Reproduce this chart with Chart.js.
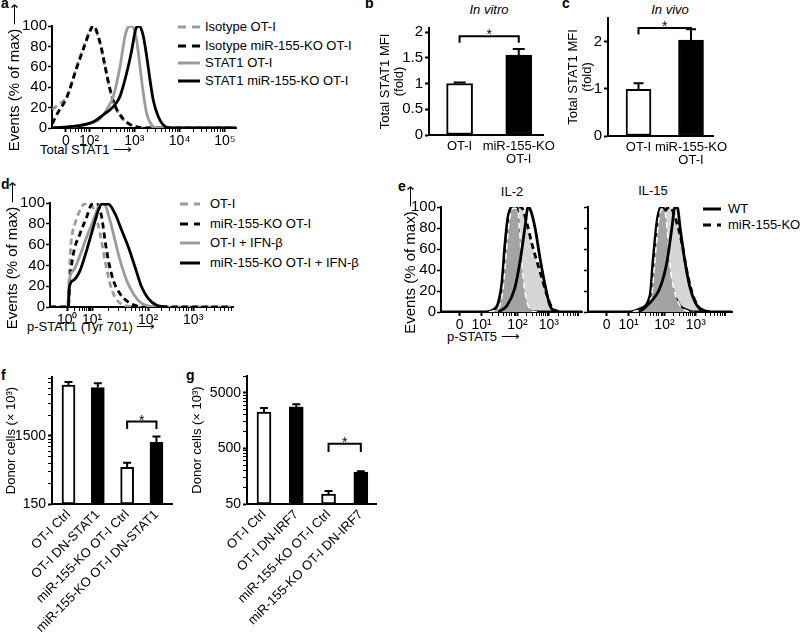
<!DOCTYPE html>
<html>
<head>
<meta charset="utf-8">
<script src="https://cdn.jsdelivr.net/npm/chart.js@4.4.1/dist/chart.umd.min.js"></script>
<style>
html,body{margin:0;padding:0;background:#fff;}
body{width:800px;height:638px;position:relative;overflow:hidden;font-family:"Liberation Sans",Arial,sans-serif;color:#000;}
canvas{position:absolute;}
.tx{position:absolute;font-size:13px;line-height:16px;white-space:nowrap;}
.pl{position:absolute;font-size:14px;font-weight:bold;line-height:14px;}
.ctr{transform:translateX(-50%);}
svg{position:absolute;left:0;top:0;}
</style>
</head>
<body>
<div class="pl" style="left:1px;top:-4px">a</div>
<div class="pl" style="left:365px;top:-4px">b</div>
<div class="pl" style="left:562px;top:-4px">c</div>
<div class="pl" style="left:1px;top:177px">d</div>
<div class="pl" style="left:398px;top:179px">e</div>
<div class="pl" style="left:1px;top:368px">f</div>
<div class="pl" style="left:186px;top:368px">g</div>

<div class="tx ctr" style="left:489px;top:2px;font-style:italic">In vitro</div>
<div class="tx ctr" style="left:670px;top:2px;font-style:italic">In vivo</div>
<div class="tx ctr" style="left:512px;top:184px">IL-2</div>
<div class="tx ctr" style="left:653px;top:183px">IL-15</div>

<div class="tx" style="left:40px;top:142px">Total STAT1 ⟶</div>
<div class="tx" style="left:27px;top:319px">p-STAT1 (Tyr 701) ⟶</div>
<div class="tx" style="left:447px;top:329px">p-STAT5 ⟶</div>

<svg width="800" height="638" id="lg"></svg>
<div id="legends"></div>

<script>
// ================= DATA =================
// Panel a: Total STAT1 (x in display decades of the logicle axis, y in % of max)
const aTickPos = [1.49, 2, 3, 4, 5];
const aTickLabels = ['0', '10²', '10³', '10⁴', '10⁵'];
const aSeriesNames = ['Isotype OT-I', 'Isotype miR-155-KO OT-I', 'STAT1 OT-I', 'STAT1 miR-155-KO OT-I'];
const aIsoOT_x = [1.19, 1.3, 1.51, 1.728, 1.912, 2.022, 2.08, 2.243, 2.353, 2.464, 2.574, 2.757, 2.978, 3.347, 5.24];
const aIsoOT_y = [18, 22, 31, 60, 83, 96, 100, 83, 60, 37, 21, 8, 2, 0, 0];
const aIsoKO_x = [1.19, 1.3, 1.51, 1.728, 1.912, 2.022, 2.095, 2.243, 2.353, 2.464, 2.574, 2.757, 2.978, 3.347, 5.24];
const aIsoKO_y = [4, 14, 30, 59, 82, 95, 100, 84, 61, 38, 22, 9, 2, 0, 0];
const aStatOT_x = [1.19, 1.875, 2.243, 2.39, 2.537, 2.684, 2.795, 2.868, 2.942, 3.052, 3.126, 3.199, 3.274, 3.384, 3.494, 5.24];
const aStatOT_y = [0, 3, 9, 18, 31, 60, 90, 99, 100, 86, 60, 34, 14, 3, 0, 0];
const aStatKO_x = [1.19, 1.728, 2.095, 2.316, 2.537, 2.684, 2.832, 2.942, 3.015, 3.052, 3.11, 3.199, 3.274, 3.347, 3.42, 3.53, 3.64, 3.788, 5.24];
const aStatKO_y = [0, 2, 6, 13, 21, 31, 54, 76, 94, 99, 100, 90, 70, 47, 27, 11, 3, 0, 0];

// Panel b: in vitro total STAT1 MFI (fold)
const bCategories = ['OT-I', 'miR-155-KO OT-I'];
const bValues = [1.0, 1.55];
const bErrors = [0.02, 0.12];
const bTicks = [0, 0.5, 1, 1.5, 2];
const bBracket = [1, 2, 1.92, 1.79];

// Panel c: in vivo total STAT1 MFI (fold)
const cCategories = ['OT-I', 'miR-155-KO OT-I'];
const cValues = [0.99, 2.03];
const cErrors = [0.13, 0.23];
const cTicks = [0, 1, 2];
const cBracket = [1, 2, 2.29, 2.15];

// Panel d: p-STAT1 (Tyr 701)
const dTickPos = [0.40, 0.98, 2.28, 3.33];
const dTickLabels = ['10⁰', '10¹', '10²', '10³'];
const dSeriesNames = ['OT-I', 'miR-155-KO OT-I', 'OT-I + IFN-β', 'miR-155-KO OT-I + IFN-β'];
const dOT_x = [0, 0.411, 0.442, 0.481, 0.581, 0.698, 0.814, 0.891, 1.047, 1.163, 1.279, 1.395, 1.512, 1.667, 1.86, 2.093, 4.22];
const dOT_y = [0, 0, 25.6, 57.7, 80, 93, 99.4, 99.4, 91, 70.5, 44.9, 22.4, 9.6, 2.6, 0.6, 0, 0];
const dKO_x = [0, 0.426, 0.465, 0.543, 0.698, 0.853, 0.969, 1.085, 1.202, 1.279, 1.357, 1.473, 1.628, 1.822, 2.016, 2.248, 4.22];
const dKO_y = [0, 0, 25.6, 51, 70.5, 86.5, 98.7, 99.4, 86.5, 64, 45, 25.6, 12.8, 4.8, 1, 0, 0];
const dOTifn_x = [0.426, 0.45, 0.543, 0.698, 0.853, 1.008, 1.124, 1.202, 1.256, 1.395, 1.512, 1.628, 1.783, 1.938, 2.093, 2.287, 2.481];
const dOTifn_y = [0, 25.6, 35, 49.7, 67.3, 83.3, 96, 99, 99, 83.3, 64, 45, 25.6, 12.8, 4.8, 1, 0];
const dKOifn_x = [0.426, 0.45, 0.543, 0.698, 0.853, 1.008, 1.124, 1.202, 1.357, 1.512, 1.667, 1.822, 1.977, 2.132, 2.287, 2.481, 2.713];
const dKOifn_y = [0, 19.2, 25.6, 35, 54.5, 76.9, 93, 99, 99, 89.7, 73.7, 57.7, 38.5, 19.2, 8, 1.6, 0];

// Panel e: p-STAT5 (WT / miR-155-KO, unstimulated filled, stimulated lines)
const eTickPos = [0.58, 1.27, 2.39, 3.37];
const eTickLabels = ['0', '10¹', '10²', '10³'];
const eSeriesNames = ['WT', 'miR-155-KO'];
const il2WTun_x = [0, 1.4, 1.625, 1.78, 1.906, 2.0, 2.09, 2.22, 2.375, 2.406, 2.47, 2.53, 2.625, 2.72, 2.9, 4.4];
const il2WTun_y = [0, 0, 2, 8, 29, 65, 90, 100, 100, 84, 48, 23, 6, 2, 0, 0];
const il2KOun_x = [1.5, 1.7, 1.85, 1.95, 2.05, 2.14, 2.27, 2.4, 2.45, 2.52, 2.6, 2.7, 2.8, 3.0];
const il2KOun_y = [0, 2, 7, 25, 60, 88, 99, 97, 80, 48, 24, 8, 2, 0];
const il2KOst_x = [1.7, 1.84, 2.06, 2.22, 2.375, 2.5, 2.69, 2.84, 3.0, 3.156, 3.31, 3.47, 3.625, 3.8];
const il2KOst_y = [0, 2, 32, 74, 97, 100, 84, 65, 48, 32, 16, 4, 1, 0];
const il2WTst_x = [1.8, 2.06, 2.3, 2.47, 2.625, 2.72, 2.8, 2.94, 3.09, 3.25, 3.406, 3.56];
const il2WTst_y = [0, 6, 22, 48, 81, 100, 97, 80, 52, 26, 6, 0];
const il15WTun_x = [0, 1.3, 1.625, 1.94, 2.03, 2.16, 2.28, 2.35, 2.41, 2.47, 2.625, 2.875, 3.09, 3.3, 4.5];
const il15WTun_y = [0, 0, 3, 16, 48, 87, 100, 100, 81, 48, 23, 6, 2, 0, 0];
const il15KOun_x = [1.4, 1.7, 1.98, 2.08, 2.2, 2.3, 2.4, 2.5, 2.56, 2.7, 2.9, 3.1, 3.3];
const il15KOun_y = [0, 3, 14, 45, 85, 98, 96, 70, 45, 20, 5, 1, 0];
const il15KOst_x = [1.5, 1.8, 2.0, 2.15, 2.3, 2.45, 2.56, 2.7, 2.94, 3.09, 3.28, 3.5, 3.7];
const il15KOst_y = [0, 4, 18, 50, 85, 98, 100, 92, 65, 39, 16, 3, 0];
const il15WTst_x = [1.6, 1.84, 2.25, 2.47, 2.625, 2.72, 2.8, 2.875, 3.03, 3.19, 3.41, 3.59, 3.8];
const il15WTst_y = [0, 6, 23, 48, 81, 100, 99, 81, 48, 23, 6, 2, 0];

// Panel f: donor cells (x10^3), DN-STAT1
const fCategories = ['OT-I Ctrl', 'OT-I DN-STAT1', 'miR-155-KO OT-I Ctrl', 'miR-155-KO OT-I DN-STAT1'];
const fValues = [8400, 7700, 520, 1210];
const fErrors = [850, 1230, 87, 255];
const fTickLabels = [150, 1500];
const fBracket = [3, 4, 2435, 1900];

// Panel g: donor cells (x10^3), DN-IRF7
const gCategories = ['OT-I Ctrl', 'OT-I DN-IRF7', 'miR-155-KO OT-I Ctrl', 'miR-155-KO OT-I DN-IRF7'];
const gValues = [2250, 2800, 75, 187];
const gErrors = [420, 300, 11, 6];
const gTickLabels = [50, 500, 5000];
const gBracket = [3, 4, 604, 432];

const histYTicks = [0, 20, 40, 60, 80, 100];

// ================= SETUP =================
const FONT = '"Liberation Sans", Arial, sans-serif';
Chart.defaults.font.family = FONT;
Chart.defaults.font.size = 14;
Chart.defaults.color = '#000';
Chart.defaults.animation = false;
Chart.defaults.responsive = false;
Chart.defaults.plugins.legend.display = false;
Chart.defaults.plugins.tooltip.enabled = false;
Chart.defaults.elements.point.radius = 0;

const GRAY = '#9b9b9b';
const DARKFILL = '#a3a3a3';
const LIGHTFILL = '#d6d6d6';
const AX = {color: '#000', width: 2};
const L = Math.log10;

function makeCanvas(left, top, w, h) {
  const c = document.createElement('canvas');
  c.width = w; c.height = h;
  c.style.left = left + 'px'; c.style.top = top + 'px';
  c.style.width = w + 'px'; c.style.height = h + 'px';
  document.body.appendChild(c);
  return c.getContext('2d');
}
const pts = (xs, ys) => xs.map((x, i) => ({x, y: ys[i]}));
function line(data, color, dashed, extra) {
  return Object.assign({data, borderColor: color, borderWidth: 2.8, borderDash: dashed ? [6, 4] : [],
    pointRadius: 0, fill: false, cubicInterpolationMode: 'monotone'}, extra || {});
}
function minorBetween(p0, p1, max) {
  const out = [];
  for (let k = 2; k <= 9; k++) { const v = p0 + (p1 - p0) * L(k); if (v <= max) out.push(v); }
  return out;
}

function histChart(ctx, datasets, o) {
  const allTicks = o.tickPos.concat(o.minor);
  return new Chart(ctx, {
    type: 'line',
    data: {datasets},
    options: {
      layout: {padding: {top: o.top, right: o.right, left: 0, bottom: 0}},
      scales: {
        x: {
          type: 'linear', min: o.xmin, max: o.xmax,
          afterBuildTicks: s => { s.ticks = allTicks.map(v => ({value: v})); },
          afterFit: s => { s.height = o.hx; },
          ticks: {autoSkip: false, maxRotation: 0, minRotation: 0, padding: 1, font: {size: 14},
            callback: v => { const k = o.tickPos.indexOf(v); return k >= 0 ? o.tickLabels[k] : ''; }},
          grid: {drawOnChartArea: false, drawTicks: true, tickLength: 4, color: '#000', tickColor: '#000',
            tickWidth: c => (c.tick && o.tickPos.indexOf(c.tick.value) >= 0) ? 2 : 1},
          border: AX
        },
        y: {
          type: 'linear', min: 0, max: 100,
          afterBuildTicks: s => { s.ticks = histYTicks.map(v => ({value: v})); },
          afterFit: s => { s.width = o.wy; },
          ticks: {autoSkip: false, padding: 1, font: {size: 15}, callback: v => o.yLabels ? String(v) : ''},
          grid: {drawOnChartArea: false, drawTicks: true, tickLength: 4, color: '#000', tickColor: '#000', tickWidth: 1.5},
          border: AX,
          title: {display: !!o.ytitle, text: o.ytitle || '', padding: {top: 4, bottom: 0}, font: {size: 15}}
        }
      }
    }
  });
}

function extras(values, errors, bracket, capHalf) {
  return {
    id: 'extras',
    afterDatasetsDraw(chart) {
      const c = chart.ctx, xs = chart.scales.x, ys = chart.scales.y;
      c.save(); c.strokeStyle = '#000'; c.fillStyle = '#000'; c.lineWidth = 2;
      values.forEach((v, i) => {
        const x = xs.getPixelForValue(i + 1), y0 = ys.getPixelForValue(v), y1 = ys.getPixelForValue(v + errors[i]);
        c.beginPath(); c.moveTo(x, y0); c.lineTo(x, y1);
        c.moveTo(x - capHalf, y1); c.lineTo(x + capHalf, y1); c.stroke();
      });
      const [from, to, top, foot] = bracket;
      const xa = xs.getPixelForValue(from), xb = xs.getPixelForValue(to);
      const yt = ys.getPixelForValue(top), yf = ys.getPixelForValue(foot);
      c.beginPath(); c.moveTo(xa, yf); c.lineTo(xa, yt); c.lineTo(xb, yt); c.lineTo(xb, yf); c.stroke();
      c.font = '14px ' + FONT; c.textAlign = 'center'; c.textBaseline = 'alphabetic';
      c.fillText('*', (xa + xb) / 2, yt + 3);
      c.restore();
    }
  };
}

function barChart(ctx, o) {
  return new Chart(ctx, {
    type: 'bar',
    data: {datasets: [{
      data: o.values.map((v, i) => ({x: i + 1, y: v})),
      backgroundColor: o.values.map((v, i) => i % 2 === 0 ? '#fff' : '#000'),
      borderColor: '#000', borderWidth: 2, barThickness: o.barW, borderSkipped: false
    }]},
    options: {
      layout: {padding: {top: o.top, right: o.right, left: 0, bottom: 0}},
      scales: {
        x: {
          type: 'linear', min: o.xmin, max: o.xmax, offset: false,
          afterBuildTicks: s => { s.ticks = o.cats.map((c, i) => ({value: i + 1})); },
          afterFit: s => { s.height = o.hx; },
          ticks: {autoSkip: false, padding: o.xpad, maxRotation: o.rot, minRotation: o.rot,
            font: {size: o.xfont, lineHeight: o.xlh},
            callback: v => o.labelFn(o.cats[Math.round(v) - 1])},
          grid: {display: false, drawTicks: false},
          border: AX
        },
        y: Object.assign({
          afterFit: s => { s.width = o.wy; },
          grid: {drawOnChartArea: false, drawTicks: true, tickLength: 4, color: '#000', tickColor: '#000',
            tickWidth: c => (c.tick && o.isMajor(c.tick.value)) ? 2 : 1},
          border: AX,
          title: {display: true, text: o.ytitle, padding: {top: 4, bottom: 0}, font: {size: 13, lineHeight: '14px'}}
        }, o.y)
      }
    },
    plugins: [extras(o.values, o.errors, o.bracket, o.cap)]
  });
}

// ================= PANEL a =================
const aMinor = [];
[2, 3, 4].forEach(d => aMinor.push(...minorBetween(d, d + 1, 5.245)));
aMinor.push(...minorBetween(1, 2, 5).filter(v => v > 1.6));
histChart(makeCanvas(2, 0, 238, 160), [
  line(pts(aStatKO_x, aStatKO_y), '#000', false),
  line(pts(aStatOT_x, aStatOT_y), GRAY, false),
  line(pts(aIsoKO_x, aIsoKO_y), '#000', true),
  line(pts(aIsoOT_x, aIsoOT_y), GRAY, true)
], {top: 26, right: 4, hx: 32, wy: 50, xmin: 1.183, xmax: 5.245, tickPos: aTickPos, tickLabels: aTickLabels,
  minor: aMinor, yLabels: true, ytitle: 'Events (% of max) ⟶'});

// ================= PANEL b =================
const splitCat = c => c.startsWith('miR') ? ['miR-155-KO', 'OT-I'] : c;
barChart(makeCanvas(374, 0, 190, 175), {
  values: bValues, errors: bErrors, bracket: bBracket, cats: bCategories, cap: 6, barW: 26,
  top: 28, right: 19, hx: 40, wy: 55, xmin: 0.483, xmax: 2.42, xpad: 5, rot: 0, xfont: 13, xlh: 1,
  labelFn: splitCat, isMajor: () => true, ytitle: ['Total STAT1 MFI', '(fold)'],
  y: {type: 'linear', min: 0, max: 2.078,
    afterBuildTicks: s => { s.ticks = bTicks.map(v => ({value: v})); },
    ticks: {autoSkip: false, padding: 2, font: {size: 15}, callback: v => String(v)}}
});

// ================= PANEL c =================
barChart(makeCanvas(562, 0, 178, 175), {
  values: cValues, errors: cErrors, bracket: cBracket, cats: cCategories, cap: 5, barW: 25,
  top: 18, right: 27, hx: 39, wy: 46, xmin: 0.419, xmax: 2.419, xpad: 5, rot: 0, xfont: 13, xlh: 1,
  labelFn: splitCat, isMajor: () => true, ytitle: ['Total STAT1 MFI', '(fold)'],
  y: {type: 'linear', min: 0, max: 2.5,
    afterBuildTicks: s => { s.ticks = cTicks.map(v => ({value: v})); },
    ticks: {autoSkip: false, padding: 2, font: {size: 15}, callback: v => String(v)}}
});

// ================= PANEL d =================
const dMinor = [].concat(minorBetween(dTickPos[0], dTickPos[1], 4.256), minorBetween(dTickPos[1], dTickPos[2], 4.256),
  minorBetween(dTickPos[2], dTickPos[3], 4.256), minorBetween(dTickPos[3], dTickPos[3] + 1.05, 4.256));
histChart(makeCanvas(0, 180, 240, 160), [
  line(pts(dKOifn_x, dKOifn_y), '#000', false),
  line(pts(dOTifn_x, dOTifn_y), GRAY, false),
  line(pts(dKO_x, dKO_y), '#000', true),
  line(pts(dOT_x, dOT_y), GRAY, true)
], {top: 23, right: 7, hx: 33, wy: 50, xmin: 0, xmax: 4.256, tickPos: dTickPos, tickLabels: dTickLabels,
  minor: dMinor, yLabels: true, ytitle: 'Events (% of max) ⟶'});

// ================= PANEL e =================
function eSets(WTst, KOun, WTun, KOst) {
  return [
    line(WTst, '#000', false),
    line(KOun, '#ffffff', true, {fill: 'origin', backgroundColor: DARKFILL, borderWidth: 1.5}),
    line(WTun, '#000', false, {fill: 'origin', backgroundColor: DARKFILL}),
    line(KOst, '#000', true, {fill: 'origin', backgroundColor: LIGHTFILL})
  ];
}
const eMinor = [].concat(minorBetween(eTickPos[1], eTickPos[2], 4.5), minorBetween(eTickPos[2], eTickPos[3], 4.5),
  minorBetween(eTickPos[3], eTickPos[3] + 0.98, 4.45));
histChart(makeCanvas(398, 185, 187, 160),
  eSets(pts(il2WTst_x, il2WTst_y), pts(il2KOun_x, il2KOun_y), pts(il2WTun_x, il2WTun_y), pts(il2KOst_x, il2KOst_y)),
  {top: 22, right: 3, hx: 33, wy: 43, xmin: 0, xmax: 4.406, tickPos: eTickPos, tickLabels: eTickLabels,
    minor: eMinor, yLabels: true, ytitle: 'Events (% of max) ⟶'});
histChart(makeCanvas(580, 185, 155, 160),
  eSets(pts(il15WTst_x, il15WTst_y), pts(il15KOun_x, il15KOun_y), pts(il15WTun_x, il15WTun_y), pts(il15KOst_x, il15KOst_y)),
  {top: 22, right: 3, hx: 33, wy: 8, xmin: 0, xmax: 4.5, tickPos: eTickPos, tickLabels: eTickLabels,
    minor: eMinor, yLabels: false, ytitle: ''});

// ================= PANEL f =================
const fAllTicks = [];
fTickLabels.forEach(b => { for (let k = 1; k <= 9; k++) if (b * k <= 11000) fAllTicks.push(b * k); });
barChart(makeCanvas(0, 360, 180, 278), {
  values: fValues, errors: fErrors, bracket: fBracket, cats: fCategories, cap: 4, barW: 13,
  top: 17, right: 8, hx: 134, wy: 52, xmin: 0.4375, xmax: 4.53, xpad: 3, rot: 45, xfont: 13, xlh: 1.2,
  labelFn: c => c, isMajor: v => fTickLabels.includes(v), ytitle: 'Donor cells (× 10³)',
  y: {type: 'logarithmic', min: 150, max: 11000,
    afterBuildTicks: s => { s.ticks = fAllTicks.map(v => ({value: v})); },
    ticks: {autoSkip: false, padding: 2, callback: v => fTickLabels.includes(v) ? String(v) : ''}}
});

// ================= PANEL g =================
const gAllTicks = [];
gTickLabels.forEach(b => { for (let k = 1; k <= 9; k++) if (b * k <= 10000) gAllTicks.push(b * k); });
barChart(makeCanvas(186, 360, 194, 278), {
  values: gValues, errors: gErrors, bracket: gBracket, cats: gCategories, cap: 4, barW: 14,
  top: 16, right: 4, hx: 134, wy: 61, xmin: 0.474, xmax: 4.47, xpad: 3, rot: 45, xfont: 13, xlh: 1.2,
  labelFn: c => c, isMajor: v => gTickLabels.includes(v), ytitle: 'Donor cells (× 10³)',
  y: {type: 'logarithmic', min: 50, max: 10000,
    afterBuildTicks: s => { s.ticks = gAllTicks.map(v => ({value: v})); },
    ticks: {autoSkip: false, padding: 2, callback: v => gTickLabels.includes(v) ? String(v) : ''}}
});

// ================= LEGENDS (HTML text + SVG samples) =================
const svg = document.getElementById('lg');
const legBox = document.getElementById('legends');
function legend(names, styles, rowsY, x1, x2, tx) {
  names.forEach((n, i) => {
    const [color, dashed] = styles[i];
    const ln = document.createElementNS('http://www.w3.org/2000/svg', 'line');
    ln.setAttribute('x1', x1); ln.setAttribute('x2', x2);
    ln.setAttribute('y1', rowsY[i]); ln.setAttribute('y2', rowsY[i]);
    ln.setAttribute('stroke', color); ln.setAttribute('stroke-width', 3);
    if (dashed) ln.setAttribute('stroke-dasharray', '8 6');
    svg.appendChild(ln);
    const d = document.createElement('div');
    d.className = 'tx'; d.style.left = tx + 'px'; d.style.top = (rowsY[i] - 8) + 'px';
    d.textContent = n;
    legBox.appendChild(d);
  });
}
const fourStyles = [[GRAY, true], ['#000', true], [GRAY, false], ['#000', false]];
legend(aSeriesNames, fourStyles, [27, 46, 63, 81], 178, 200, 205);
legend(dSeriesNames, fourStyles, [204, 224, 243, 263], 180, 200, 210);
legend(eSeriesNames, [['#000', false], ['#000', true]], [209, 225], 703, 721, 728);
</script>
</body>
</html>
